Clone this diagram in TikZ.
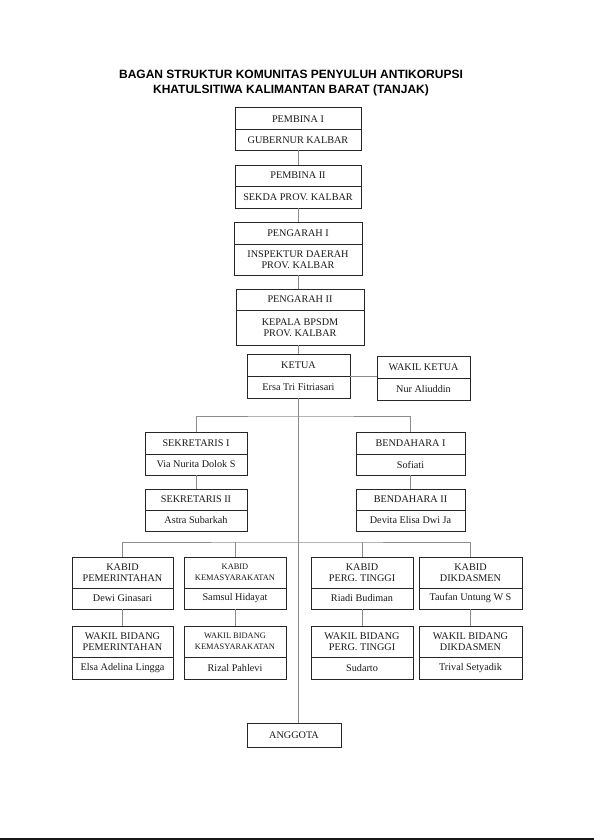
\documentclass[tikz,border=0pt]{standalone}
\usepackage{fontspec}
\setmainfont{Liberation Serif}
\newfontfamily\judulfont{Liberation Sans}
\usetikzlibrary{positioning}

\begin{document}
\begin{tikzpicture}[x=1pt,y=-1pt,
    kotak/.style={draw=black!85,line width=1pt,minimum width=#1,minimum height=22pt,align=center,
        inner sep=1pt,outer sep=0pt,text=black!90,font=\fontsize{10.2}{11.5}\selectfont},
    dua/.style={minimum height=31pt},
    kecil/.style={font=\fontsize{8.4}{10.5}\selectfont},
    garis/.style={draw=black!45,line width=0.9pt}
    ]
    \useasboundingbox (0,0) rectangle (594,840);
    \node[font=\judulfont\bfseries\fontsize{12}{14.3}\selectfont,align=center] (judul) at (291,83)
        {BAGAN STRUKTUR KOMUNITAS PENYULUH ANTIKORUPSI\\KHATULSITIWA KALIMANTAN BARAT (TANJAK)};

    % pembina dan pengarah
    \node[kotak=126pt,anchor=north] (pb1) at (298,108) {PEMBINA I};
    \node[kotak=126pt,minimum height=20pt,below=0pt of pb1] (pb1n) {GUBERNUR KALBAR};
    \node[kotak=126pt,minimum height=21pt,anchor=north] (pb2) at (298,165) {PEMBINA II};
    \node[kotak=126pt,below=0pt of pb2] (pb2n) {SEKDA PROV. KALBAR};
    \node[kotak=128pt,anchor=north] (pg1) at (298,222) {PENGARAH I};
    \node[kotak=128pt,dua,below=0pt of pg1] (pg1n) {INSPEKTUR DAERAH\\PROV. KALBAR};
    \node[kotak=128pt,minimum height=21pt,anchor=north] (pg2) at (300,289) {PENGARAH II};
    \node[kotak=128pt,minimum height=35pt,below=0pt of pg2] (pg2n) {KEPALA BPSDM\\PROV. KALBAR};

    % ketua
    \node[kotak=103pt,anchor=north] (ketua) at (298.5,354) {KETUA};
    \node[kotak=103pt,below=0pt of ketua] (ketuan) {Ersa Tri Fitriasari};
    \node[kotak=93pt,anchor=north] (wakil) at (423.5,356) {WAKIL KETUA};
    \node[kotak=93pt,below=0pt of wakil] (wakiln) {Nur Aliuddin};

    % sekretaris dan bendahara
    \node[kotak=102pt,anchor=north] (sek1) at (196,432) {SEKRETARIS I};
    \node[kotak=102pt,minimum height=21pt,below=0pt of sek1] (sek1n) {Via Nurita Dolok S};
    \node[kotak=102pt,minimum height=21pt,anchor=north] (sek2) at (196,489) {SEKRETARIS II};
    \node[kotak=102pt,minimum height=21pt,below=0pt of sek2] (sek2n) {Astra Subarkah};
    \node[kotak=109pt,anchor=north] (ben1) at (410.5,432) {BENDAHARA I};
    \node[kotak=109pt,minimum height=21pt,below=0pt of ben1] (ben1n) {Sofiati};
    \node[kotak=109pt,minimum height=21pt,anchor=north] (ben2) at (410.5,489) {BENDAHARA II};
    \node[kotak=109pt,minimum height=21pt,below=0pt of ben2] (ben2n) {Devita Elisa Dwi Ja};

    % kabid
    \node[kotak=101pt,dua,anchor=north] (kbp) at (122.5,557) {KABID\\PEMERINTAHAN};
    \node[kotak=101pt,minimum height=21pt,below=0pt of kbp] (kbpn) {Dewi Ginasari};
    \node[kotak=102pt,dua,kecil,anchor=north] (kbk) at (235,557) {KABID\\KEMASYARAKATAN};
    \node[kotak=102pt,minimum height=21pt,below=0pt of kbk] (kbkn) {Samsul Hidayat};
    \node[kotak=102pt,dua,anchor=north] (kbt) at (362,557) {KABID\\PERG. TINGGI};
    \node[kotak=102pt,minimum height=21pt,below=0pt of kbt] (kbtn) {Riadi Budiman};
    \node[kotak=103pt,dua,anchor=north] (kbd) at (470.5,557) {KABID\\DIKDASMEN};
    \node[kotak=103pt,minimum height=21pt,below=0pt of kbd] (kbdn) {Taufan Untung W S};

    % wakil bidang
    \node[kotak=101pt,dua,anchor=north] (wbp) at (122.5,626) {WAKIL BIDANG\\PEMERINTAHAN};
    \node[kotak=101pt,below=0pt of wbp] (wbpn) {Elsa Adelina Lingga};
    \node[kotak=102pt,dua,kecil,anchor=north] (wbk) at (235,626) {WAKIL BIDANG\\KEMASYARAKATAN};
    \node[kotak=102pt,below=0pt of wbk] (wbkn) {Rizal Pahlevi};
    \node[kotak=102pt,dua,anchor=north] (wbt) at (362,626) {WAKIL BIDANG\\PERG. TINGGI};
    \node[kotak=102pt,below=0pt of wbt] (wbtn) {Sudarto};
    \node[kotak=103pt,dua,anchor=north] (wbd) at (470.5,626) {WAKIL BIDANG\\DIKDASMEN};
    \node[kotak=103pt,below=0pt of wbd] (wbdn) {Trival Setyadik};

    \node[kotak=94pt,minimum height=24pt,anchor=north] (anggota) at (294,723) {ANGGOTA};

    % garis penghubung
    \coordinate (bar1) at (298,416);
    \coordinate (bar2) at (298,542);
    \draw[garis] (pb1n.south) -- (pb2.north);
    \draw[garis] (pb2n.south) -- (pg1.north);
    \draw[garis] (pg1n.south) -- (pg1n.south |- pg2.north);
    \draw[garis] (ketua.north |- pg2n.south) -- (ketua.north);
    \draw[garis] (ketua.south east) -- (ketua.south east -| wakil.west);
    \draw[garis] (ketuan.south) -- (ketuan.south |- anggota.north);
    \draw[garis] (sek1.north) |- (bar1) -| (ben1.north);
    \draw[garis] (sek1n.south) -- (sek2.north);
    \draw[garis] (ben1n.south) -- (ben2.north);
    \draw[garis] (kbp.north) |- (bar2) -| (kbd.north);
    \foreach \X in {kbk,kbt}
    {\draw[garis] (\X.north) -- (\X.north |- bar2);}
    \foreach \X/\Y in {kbp/wbp,kbk/wbk,kbt/wbt,kbd/wbd}
    {\draw[garis] (\X n.south) -- (\Y.north);}
    \fill[black!90] (0,838) rectangle (594,840);
\end{tikzpicture}
\end{document}
